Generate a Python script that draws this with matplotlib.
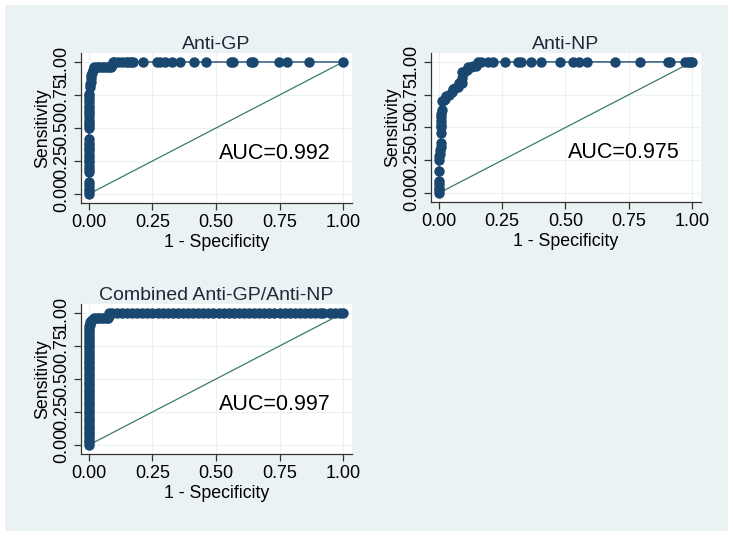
import matplotlib
matplotlib.use('Agg')
import matplotlib.pyplot as plt
from matplotlib.patches import Rectangle

# ROC points (1 - specificity, sensitivity)
gp_fpr = [0, 0, 0, 0, 0, 0, 0, 0, 0, 0, 0, 0, 0, 0, 0, 0, 0, 0, 0, 0, 0, 0, 0, 0, 0, 0, 0, 0, 0, 0,
          0.005, 0.005, 0.008, 0.008, 0.01, 0.012, 0.015, 0.02, 0.03, 0.04, 0.05, 0.06, 0.07, 0.08, 0.088,
          0.09, 0.095, 0.10, 0.115, 0.13, 0.145, 0.155, 0.165, 0.175, 0.214, 0.266, 0.28, 0.30, 0.326,
          0.358, 0.415, 0.46, 0.559, 0.567, 0.638, 0.646, 0.749, 0.781, 0.864, 1.0]
gp_tpr = [0, 0.02, 0.04, 0.07, 0.09, 0.17, 0.19, 0.21, 0.24, 0.26, 0.28, 0.30, 0.33, 0.35, 0.37,
          0.39, 0.42, 0.50, 0.52, 0.54, 0.56, 0.59, 0.61, 0.63, 0.65, 0.67, 0.70, 0.72, 0.74, 0.76,
          0.81, 0.83, 0.85, 0.88, 0.90, 0.92, 0.94, 0.96, 0.96, 0.96, 0.96, 0.96, 0.96, 0.96, 0.96,
          0.98, 1, 1, 1, 1, 1, 1, 1, 1, 1, 1, 1, 1, 1, 1, 1, 1, 1, 1, 1, 1, 1, 1, 1, 1]

np_fpr = [0, 0, 0, 0, 0, 0, 0, 0, 0.005, 0.005, 0.008, 0.008, 0.008, 0.008, 0.008, 0.01, 0.01, 0.01,
          0.013, 0.013, 0.02, 0.025, 0.03, 0.04, 0.05, 0.055, 0.065, 0.075, 0.08, 0.09, 0.09, 0.09,
          0.10, 0.11, 0.115, 0.125, 0.135, 0.145, 0.155, 0.168, 0.195, 0.214, 0.26, 0.313, 0.326,
          0.363, 0.403, 0.478, 0.53, 0.554, 0.583, 0.697, 0.793, 0.905, 0.914, 0.971, 0.984, 0.993, 1.0]
np_tpr = [0, 0.02, 0.04, 0.07, 0.09, 0.17, 0.25, 0.28, 0.30, 0.33, 0.35, 0.38, 0.46, 0.50, 0.52,
          0.55, 0.58, 0.60, 0.63, 0.70, 0.71, 0.72, 0.74, 0.75, 0.77, 0.79, 0.80, 0.81, 0.84, 0.84,
          0.88, 0.92, 0.92, 0.94, 0.96, 0.96, 0.97, 0.97, 1, 1, 1, 1, 1, 1, 1, 1, 1, 1, 1, 1, 1, 1,
          1, 1, 1, 1, 1, 1, 1]

comb_fpr = [0] * 46 + [0.003, 0.005, 0.008, 0.012, 0.02, 0.03, 0.04, 0.05, 0.06, 0.07, 0.075, 0.078,
            0.08, 0.09, 0.11, 0.13, 0.15, 0.17, 0.19, 0.21, 0.23, 0.25, 0.27, 0.29, 0.31, 0.33, 0.35,
            0.37, 0.39, 0.41, 0.43, 0.45, 0.47, 0.49, 0.51, 0.53, 0.55, 0.57, 0.59, 0.61, 0.63, 0.65,
            0.67, 0.69, 0.71, 0.73, 0.75, 0.77, 0.79, 0.81, 0.83, 0.85, 0.87, 0.89, 0.91, 0.92,
            0.948, 0.967, 0.987, 1.0]
comb_tpr = [0, 0.02, 0.04, 0.06, 0.08, 0.10, 0.12, 0.14, 0.16, 0.18, 0.20, 0.22, 0.24, 0.26, 0.28,
            0.30, 0.32, 0.34, 0.36, 0.38, 0.40, 0.42, 0.44, 0.46, 0.48, 0.50, 0.52, 0.54, 0.56, 0.58,
            0.60, 0.62, 0.64, 0.66, 0.68, 0.70, 0.72, 0.74, 0.76, 0.78, 0.80, 0.82, 0.84, 0.86, 0.88,
            0.90,
            0.91, 0.93, 0.94, 0.95, 0.96, 0.96, 0.96, 0.96, 0.96, 0.96, 0.96, 0.98] + [1] * 48

titles = ['Anti-GP', 'Anti-NP', 'Combined Anti-GP/Anti-NP']
auc_values = ['0.992', '0.975', '0.997']
ticks = [0, 0.25, 0.5, 0.75, 1.0]
tick_labels = ['0.00', '0.25', '0.50', '0.75', '1.00']

navy = '#1a476f'
green = '#3a7d5c'
bg = '#eaf2f3'

plt.rcParams['font.family'] = ['Liberation Sans', 'DejaVu Sans']

fig = plt.figure(figsize=(7.33, 5.36), dpi=100)
fig.patch.set_facecolor('white')
W, H = 733, 536
fig.patches.append(Rectangle((5 / W, 5 / H), 723 / W, 526 / H, transform=fig.transFigure,
                             facecolor=bg, edgecolor='none', zorder=-10))

# axes boxes in pixels: left, top, right, bottom
boxes = [(81, 53, 352, 203), (431, 53, 701, 202), (81, 304, 352, 454)]
series = [(gp_fpr, gp_tpr), (np_fpr, np_tpr), (comb_fpr, comb_tpr)]

for (l, t, r, b), (fx, ty), title, auc in zip(boxes, series, titles, auc_values):
    ax = fig.add_axes([l / W, 1 - b / H, (r - l) / W, (b - t) / H])
    ax.set_facecolor('white')
    ax.plot(fx, ty, color=navy, lw=1, marker='o', ms=6.5, mec=navy, mfc=navy, zorder=3,
            clip_on=False)
    ax.plot([0, 1], [0, 1], color=green, lw=0.9, zorder=2)
    ax.set_xlim(-0.031, 1.035)
    ax.set_ylim(-0.068, 1.068)
    ax.set_xticks(ticks)
    ax.set_xticklabels(tick_labels, fontsize=13)
    ax.set_yticks(ticks)
    ax.set_yticklabels(tick_labels, fontsize=13, rotation=90, va='center')
    ax.grid(True, color=bg, lw=0.9, zorder=0)
    ax.set_axisbelow(True)
    for s in ['top', 'right']:
        ax.spines[s].set_visible(False)
    for s in ['left', 'bottom']:
        ax.spines[s].set_color('#333333')
        ax.spines[s].set_linewidth(0.9)
    ax.tick_params(direction='out', length=5, width=0.9, color='#333333', pad=3)
    ax.set_xlabel('1 - Specificity', fontsize=12.8, labelpad=2)
    ax.set_ylabel('Sensitivity', fontsize=12.8, labelpad=1)
    ax.set_title(title, fontsize=14, pad=2, color='#1e2a3a')
    ax.text(0.51, 0.31, 'AUC=' + auc, fontsize=15.5, va='center', ha='left')

fig.savefig('out.png', dpi=100)
